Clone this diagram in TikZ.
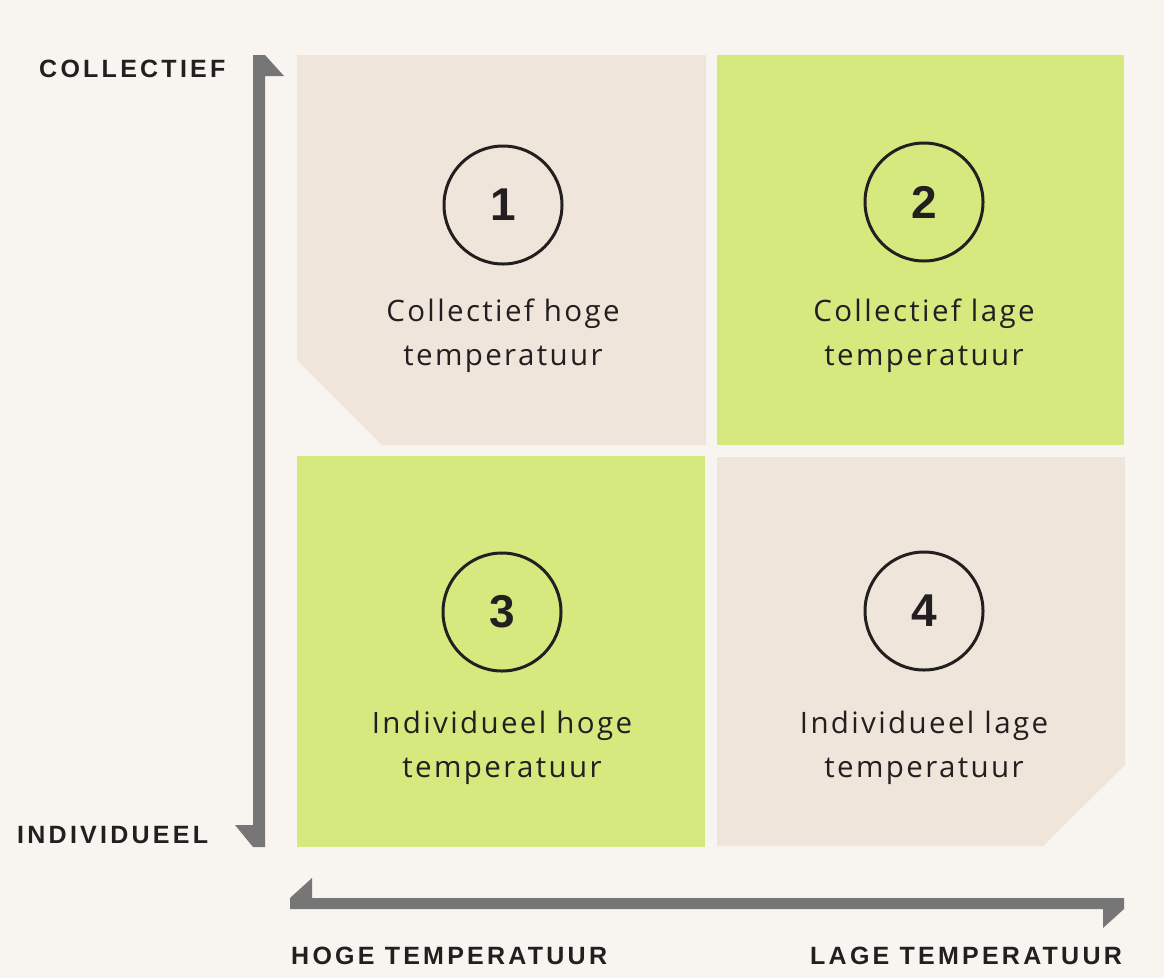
\documentclass[tikz,border=0pt]{standalone}
\usepackage{fontspec}
\setmainfont{Open Sans}[LetterSpace=8]
\newfontfamily\axisfont{Liberation Sans}[LetterSpace=13]
\newfontfamily\numfont{Liberation Sans}
\usetikzlibrary{positioning}
\definecolor{canvas}{HTML}{F8F5F0}
\definecolor{sand}{HTML}{EFE5DA}
\definecolor{lime}{HTML}{D6E97F}
\definecolor{axisgray}{HTML}{767676}
\definecolor{ink}{HTML}{231F20}
\tikzset{
  sandquad/.style={fill=sand},
  limequad/.style={fill=lime},
  numcircle/.style={circle, draw=ink, line width=3pt, minimum size=118pt,
    inner sep=0pt, text=ink, font=\numfont\bfseries\fontsize{46}{46}\selectfont},
  quadtext/.style={align=center, inner sep=0pt, text=ink,
    font=\fontsize{29.5}{44}\selectfont},
  axislabel/.style={inner sep=0pt, text=ink,
    font=\axisfont\bfseries\fontsize{25}{25}\selectfont},
  axisbar/.style={fill=axisgray}
}
\begin{document}
\begin{tikzpicture}[x=1pt, y=-1pt]
    \fill[canvas] (0,0) rectangle (1164,978);
    % quadrants
    \fill[sandquad] (297,55) -- (706,55) -- (706,445) -- (382,445) -- (297,360) -- cycle;
    \fill[limequad] (717,55) rectangle (1124,445);
    \fill[limequad] (297,456) rectangle (705,847);
    \fill[sandquad] (717,457) -- (1125,457) -- (1125,765) -- (1043,846) -- (717,846) -- cycle;
    % axes
    \fill[axisbar] (253,55) -- (265,55) -- (284,76) -- (265,76) -- (265,847)
      -- (253,847) -- (235,825) -- (253,825) -- cycle;
    \fill[axisbar] (290,909) -- (290,898) -- (312,878) -- (312,898) -- (1124,898)
      -- (1124,909) -- (1103,928) -- (1103,909) -- cycle;
    \node[axislabel, anchor=west] (collectief) at (39,69) {COLLECTIEF};
    \node[axislabel, anchor=west] (individueel) at (17,835) {INDIVIDUEEL};
    \node[axislabel, anchor=west] (hoog) at (291,956) {HOGE TEMPERATUUR};
    \node[axislabel, anchor=west] (laag) at (810,956) {LAGE TEMPERATUUR};
    % numbered circles with labels
    \node[numcircle] (one) at (503,205) {1};
    \node[numcircle] (two) at (924,202) {2};
    \node[numcircle] (three) at (502,612) {3};
    \node[numcircle] (four) at (924,611) {4};
    \node[quadtext, below=33pt of one] (onetext) {Collectief hoge\\temperatuur};
    \node[quadtext, below=36pt of two] (twotext) {Collectief lage\\temperatuur};
    \node[quadtext, below=38pt of three] (threetext) {Individueel hoge\\temperatuur};
    \node[quadtext, below=39pt of four] (fourtext) {Individueel lage\\temperatuur};
  \end{tikzpicture}
\end{document}
